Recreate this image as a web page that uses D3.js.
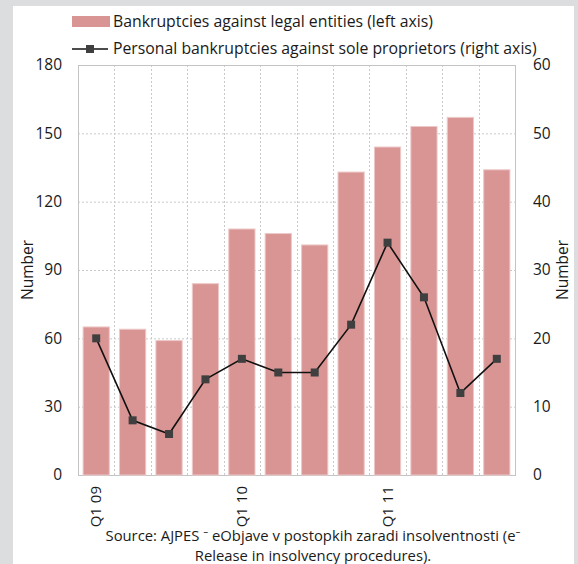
<!DOCTYPE html>
<html>
<head>
<meta charset="utf-8">
<script src="https://cdn.jsdelivr.net/npm/d3@7"></script>
<style>
  html, body { margin: 0; padding: 0; background: #dcdddf; }
  svg { display: block; }
  text { font-family: "Open Sans", "Noto Sans", sans-serif; fill: #1a1a1a; }
</style>
</head>
<body>
<svg id="chart" width="578" height="564"></svg>
<script>
// Quarterly bankruptcy counts, Q1 2009 – Q4 2011
const quarters = ["Q1 09","Q2 09","Q3 09","Q4 09","Q1 10","Q2 10","Q3 10","Q4 10","Q1 11","Q2 11","Q3 11","Q4 11"];
const legalEntities = [65, 64, 59, 84, 108, 106, 101, 133, 144, 153, 157, 134];
const soleProprietors = [20, 8, 6, 14, 17, 15, 15, 22, 34, 26, 12, 17];
const leftTicks = [0, 30, 60, 90, 120, 150, 180];
const rightTicks = [0, 10, 20, 30, 40, 50, 60];
const shownQuarterLabels = ["Q1 09", "Q1 10", "Q1 11"];
const barLegend = "Bankruptcies against legal entities (left axis)";
const lineLegend = "Personal bankruptcies against sole proprietors (right axis)";
const sourceLines = [
  "Source: AJPES \u207B eObjave v postopkih zaradi insolventnosti (e\u207B",
  "Release in insolvency procedures)."
];

const svg = d3.select("#chart");
const W = 578, H = 564;

// white panel
svg.append("rect").attr("x", 13).attr("y", 6).attr("width", 561).attr("height", H - 6).attr("fill", "#ffffff");

const plot = { left: 78, right: 515, top: 65, bottom: 475 };

const x = d3.scaleBand()
  .domain(quarters)
  .range([plot.left, plot.right])
  .paddingInner(0.28)
  .paddingOuter(0.14);

const yL = d3.scaleLinear().domain([0, 180]).range([plot.bottom, plot.top]);
const yR = d3.scaleLinear().domain([0, 60]).range([plot.bottom, plot.top]);

const gridColor = "#c9c9c9";
const grid = svg.append("g");

// horizontal dotted gridlines
grid.selectAll("line.h")
  .data(leftTicks.filter(t => t > 0 && t < 180))
  .join("line")
  .attr("x1", plot.left).attr("x2", plot.right)
  .attr("y1", d => yL(d) + 0.5).attr("y2", d => yL(d) + 0.5)
  .attr("stroke", gridColor).attr("stroke-width", 1).attr("stroke-dasharray", "2,2");

// vertical dotted gridlines between categories
const step = x.step();
grid.selectAll("line.v")
  .data(d3.range(1, quarters.length))
  .join("line")
  .attr("x1", i => Math.round(plot.left + i * step) + 0.5)
  .attr("x2", i => Math.round(plot.left + i * step) + 0.5)
  .attr("y1", plot.top).attr("y2", plot.bottom)
  .attr("stroke", gridColor).attr("stroke-width", 1).attr("stroke-dasharray", "2,2");

// plot frame
svg.append("rect")
  .attr("x", plot.left + 0.5).attr("y", plot.top + 0.5)
  .attr("width", plot.right - plot.left).attr("height", plot.bottom - plot.top)
  .attr("fill", "none").attr("stroke", "#c4c4c4").attr("stroke-width", 1);

// bars
svg.append("g").selectAll("rect")
  .data(quarters.map((q, i) => ({ q, v: legalEntities[i] })))
  .join("rect")
  .attr("x", d => x(d.q))
  .attr("y", d => yL(d.v))
  .attr("width", x.bandwidth())
  .attr("height", d => yL(0) - yL(d.v))
  .attr("fill", "#d99594")
  .attr("stroke", "#ecc9c8")
  .attr("stroke-width", 1);

// line series
const pts = quarters.map((q, i) => ({ q, v: soleProprietors[i] }));
const line = d3.line().x(d => x(d.q) + x.bandwidth() / 2).y(d => yR(d.v));
svg.append("path")
  .datum(pts)
  .attr("d", line)
  .attr("fill", "none")
  .attr("stroke", "#111111")
  .attr("stroke-width", 1.6);

svg.append("g").selectAll("rect")
  .data(pts)
  .join("rect")
  .attr("x", d => x(d.q) + x.bandwidth() / 2 - 4)
  .attr("y", d => yR(d.v) - 4)
  .attr("width", 8).attr("height", 8)
  .attr("fill", "#3f3f3f");

// left axis
const leftAxis = d3.axisLeft(yL).tickValues(leftTicks).tickSize(0).tickPadding(16);
const gL = svg.append("g").attr("transform", `translate(${plot.left},0)`).call(leftAxis);
gL.select(".domain").remove();
gL.selectAll("text").attr("font-size", 15.5).attr("fill", "#1a1a1a");

// right axis
const rightAxis = d3.axisRight(yR).tickValues(rightTicks).tickSize(0).tickPadding(18);
const gR = svg.append("g").attr("transform", `translate(${plot.right},0)`).call(rightAxis);
gR.select(".domain").remove();
gR.selectAll("text").attr("font-size", 15.5).attr("fill", "#1a1a1a");

// x axis labels (rotated)
const xAxis = d3.axisBottom(x).tickValues(shownQuarterLabels).tickSize(0).tickPadding(0);
const gX = svg.append("g").attr("transform", `translate(0,${plot.bottom})`).call(xAxis);
gX.select(".domain").remove();
gX.selectAll("text")
  .attr("font-size", 15)
  .attr("fill", "#1a1a1a")
  .attr("transform", "rotate(-90)")
  .attr("text-anchor", "end")
  .attr("x", -11)
  .attr("y", 0)
  .attr("dy", "0.35em");

// axis titles
svg.append("text")
  .attr("transform", `translate(33,${(plot.top + plot.bottom) / 2}) rotate(-90)`)
  .attr("text-anchor", "middle")
  .attr("font-size", 15.5)
  .text("Number");
svg.append("text")
  .attr("transform", `translate(568,${(plot.top + plot.bottom) / 2}) rotate(-90)`)
  .attr("text-anchor", "middle")
  .attr("font-size", 15.5)
  .text("Number");

// legend
const lg = svg.append("g");
lg.append("rect").attr("x", 72).attr("y", 16).attr("width", 38).attr("height", 11).attr("fill", "#d99594");
lg.append("text").attr("x", 113).attr("y", 27).attr("font-size", 15.8).text(barLegend);
lg.append("line").attr("x1", 72).attr("x2", 108).attr("y1", 49).attr("y2", 49)
  .attr("stroke", "#111111").attr("stroke-width", 1.6);
lg.append("rect").attr("x", 86).attr("y", 45).attr("width", 8).attr("height", 8).attr("fill", "#3f3f3f");
lg.append("text").attr("x", 113).attr("y", 54).attr("font-size", 15.8).text(lineLegend);

// source note, wrapped over two lines
svg.append("text")
  .attr("text-anchor", "middle")
  .attr("font-size", 14.8)
  .selectAll("tspan")
  .data(sourceLines)
  .join("tspan")
  .attr("x", 313)
  .attr("y", (d, i) => 541 + i * 20)
  .text(d => d);
</script>
</body>
</html>
